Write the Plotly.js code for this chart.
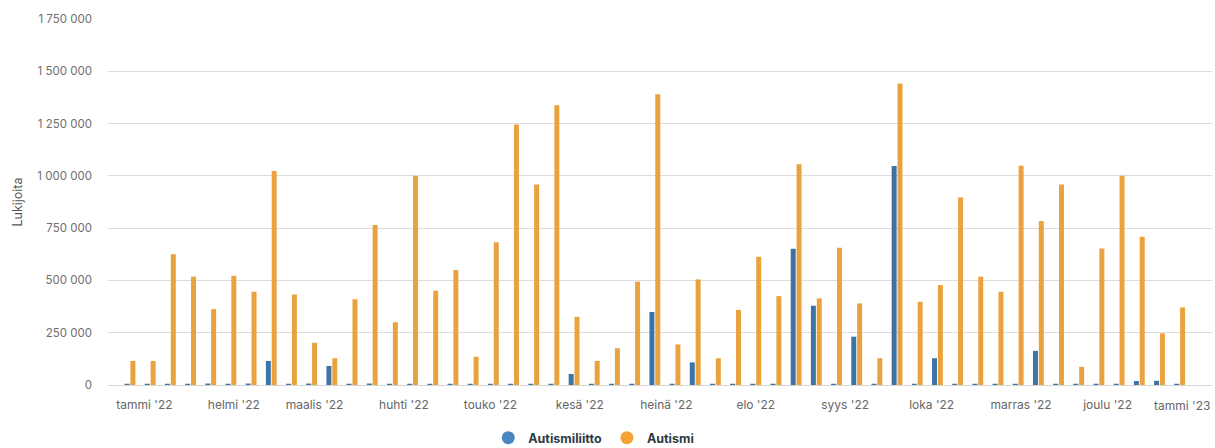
<!DOCTYPE html>
<html>
<head>
<meta charset="utf-8">
<script src="https://cdn.plot.ly/plotly-3.0.1.min.js"></script>
<style>
  html, body { margin: 0; padding: 0; background: #ffffff; }
  #chart { width: 1215px; height: 448px; }
</style>
</head>
<body>
<div id="chart"></div>
<script>
// Week start dates (Mondays)
const weeks = [
  '2021-12-27','2022-01-03','2022-01-10','2022-01-17','2022-01-24','2022-01-31','2022-02-07','2022-02-14',
  '2022-02-21','2022-02-28','2022-03-07','2022-03-14','2022-03-21','2022-03-28','2022-04-04','2022-04-11',
  '2022-04-18','2022-04-25','2022-05-02','2022-05-09','2022-05-16','2022-05-23','2022-05-30','2022-06-06',
  '2022-06-13','2022-06-20','2022-06-27','2022-07-04','2022-07-11','2022-07-18','2022-07-25','2022-08-01',
  '2022-08-08','2022-08-15','2022-08-22','2022-08-29','2022-09-05','2022-09-12','2022-09-19','2022-09-26',
  '2022-10-03','2022-10-10','2022-10-17','2022-10-24','2022-10-31','2022-11-07','2022-11-14','2022-11-21',
  '2022-11-28','2022-12-05','2022-12-12','2022-12-19','2022-12-26'
];

// Readers per week
const autismiliitto = [
  6000, 6000, 6000, 6000, 7000, 6000, 7000, 115000,
  6000, 7000, 91000, 6000, 7000, 6000, 6000, 6000,
  6000, 6000, 6000, 6000, 6000, 6000, 53000, 6000,
  6000, 6000, 349000, 6000, 108000, 6000, 6000, 6000,
  6000, 651000, 379000, 6000, 231000, 6000, 1047000, 6000,
  128000, 6000, 6000, 6000, 6000, 163000, 6000, 6000,
  6000, 6000, 19000, 20000, 6000
];
const autismi = [
  115000, 115000, 625000, 518000, 363000, 522000, 446000, 1023000,
  433000, 202000, 128000, 410000, 765000, 300000, 1000000, 451000,
  550000, 135000, 682000, 1246000, 959000, 1338000, 326000, 115000,
  176000, 494000, 1390000, 194000, 505000, 128000, 359000, 613000,
  425000, 1055000, 414000, 656000, 390000, 128000, 1442000, 398000,
  478000, 897000, 518000, 446000, 1048000, 784000, 959000, 87000,
  653000, 1000000, 709000, 247000, 371000
];

// Month tick labels
const monthTicks = [
  '2022-01-01','2022-02-01','2022-03-01','2022-04-01','2022-05-01','2022-06-01',
  '2022-07-01','2022-08-01','2022-09-01','2022-10-01','2022-11-01','2022-12-01','2023-01-01'
];
const monthLabels = [
  "tammi '22","helmi '22","maalis '22","huhti '22","touko '22","kesä '22",
  "heinä '22","elo '22","syys '22","loka '22","marras '22","joulu '22","tammi '23"
];
const yTicks = [0, 250000, 500000, 750000, 1000000, 1250000, 1500000, 1750000];
const seriesNames = ['Autismiliitto', 'Autismi'];

const barBlue = '#3e74a4';
const barOrange = '#e9a23d';
const legBlue = '#4a87c0';
const legOrange = '#f5a234';
const FONT = 'Inter, "Noto Sans", sans-serif';

const traces = [
  { type: 'bar', x: weeks, y: autismiliitto, name: seriesNames[0], marker: { color: barBlue }, showlegend: false },
  { type: 'bar', x: weeks, y: autismi, name: seriesNames[1], marker: { color: barOrange }, showlegend: false },
  { type: 'scatter', mode: 'markers', x: [null], y: [null], name: seriesNames[0], marker: { color: legBlue, size: 13, symbol: 'circle' }, showlegend: true },
  { type: 'scatter', mode: 'markers', x: [null], y: [null], name: seriesNames[1], marker: { color: legOrange, size: 13, symbol: 'circle' }, showlegend: true }
];

const layout = {
  width: 1215,
  height: 448,
  autosize: false,
  margin: { l: 108, r: 3, t: 19, b: 63, autoexpand: false },
  paper_bgcolor: '#ffffff',
  plot_bgcolor: '#ffffff',
  separators: ', ',
  font: { family: FONT, size: 12, color: '#666666' },
  barmode: 'group',
  bargap: 0.42,
  bargroupgap: 0.15,
  showlegend: true,
  legend: {
    orientation: 'h',
    x: 0.44,
    xanchor: 'center',
    y: -0.145,
    yanchor: 'middle',
    font: { family: FONT, size: 12.5, color: '#2f3a44', weight: 'bold' },
    itemwidth: 30,
    bgcolor: 'rgba(0,0,0,0)'
  },
  xaxis: {
    type: 'date',
    range: ['2021-12-19 09:00', '2023-01-06 05:00'],
    tickmode: 'array',
    tickvals: monthTicks.slice(0, -1),
    ticktext: monthLabels.slice(0, -1),
    tickangle: 0,
    ticks: '',
    showgrid: false,
    zeroline: false,
    showline: false,
    automargin: false,
    tickfont: { family: FONT, size: 12, color: '#666666' },
    ticklabelstandoff: 11,
    fixedrange: true
  },
  yaxis: {
    range: [0, 1750000],
    tickmode: 'array',
    tickvals: yTicks,
    tickformat: ',d',
    separatethousands: true,
    ticks: '',
    showgrid: true,
    gridcolor: '#dcdcdc',
    gridwidth: 1,
    zeroline: true,
    zerolinecolor: '#d6d6d6',
    zerolinewidth: 1,
    showline: false,
    tickfont: { family: FONT, size: 11.5, color: '#6f6f6f' },
    ticklabelstandoff: 15,
    automargin: false,
    title: { text: 'Lukijoita', font: { family: FONT, size: 12.5, color: '#555555' }, standoff: 11 },
    fixedrange: true
  },
  annotations: [
    {
      xref: 'paper', yref: 'paper', x: 1, y: 0, xanchor: 'right', yanchor: 'top',
      yshift: -11,
      text: monthLabels[monthLabels.length - 1],
      showarrow: false,
      font: { family: FONT, size: 12, color: '#666666' }
    }
  ]
};

Plotly.newPlot('chart', traces, layout, { displayModeBar: false, staticPlot: true });
</script>
</body>
</html>
